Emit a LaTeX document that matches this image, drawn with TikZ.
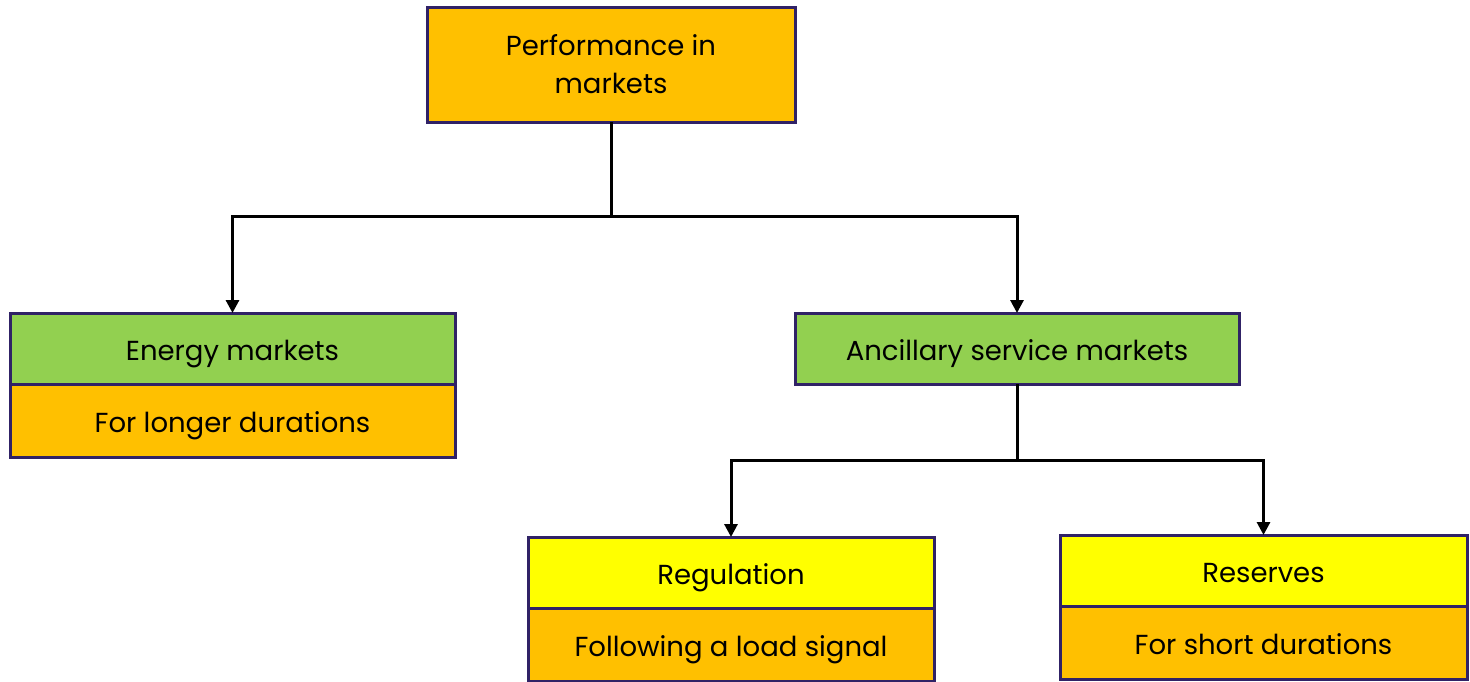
\documentclass[tikz,border=0pt]{standalone}
\usepackage{fontspec}
\setmainfont{Poppins}
\usetikzlibrary{arrows.meta}
\definecolor{edgepurple}{HTML}{302266}
\definecolor{amber}{HTML}{FFC000}
\definecolor{leaf}{HTML}{92D050}
\definecolor{lemon}{HTML}{FFFF00}
\begin{document}
\begin{tikzpicture}[x=1pt,y=-1pt,
  box/.style={draw=edgepurple, line width=3pt, inner sep=0pt, outer sep=0pt,
    align=center, font=\fontsize{27.5}{38}\selectfont, anchor=north west},
  oneline/.style={box, text height=23pt, text depth=0pt},
  link/.style={line width=3pt, black},
  arr/.style={link, -{Triangle[length=13pt,width=13pt]}}]
\useasboundingbox (0,0) rectangle (1470,681);

% root
\node[box, fill=amber, minimum width=368pt, minimum height=115pt] (top) at (427,7) {Performance in\\markets};

% second level
\node[oneline, fill=leaf, minimum width=445pt, minimum height=71pt] (energy) at (10,313) {Energy markets};
\node[oneline, fill=amber, minimum width=445pt, minimum height=73pt] (energyd) at (10,384) {For longer durations};
\node[oneline, fill=leaf, minimum width=444pt, minimum height=71pt] (anc) at (795,313) {Ancillary service markets};

% third level
\node[oneline, fill=lemon, minimum width=406pt, minimum height=71pt] (reg) at (528,537) {Regulation};
\node[oneline, fill=amber, minimum width=406pt, minimum height=73pt] (regd) at (528,608) {Following a load signal};
\node[oneline, fill=lemon, minimum width=407pt, minimum height=71pt] (res) at (1060,535) {Reserves};
\node[oneline, fill=amber, minimum width=407pt, minimum height=73pt] (resd) at (1060,606) {For short durations};

% connectors
\coordinate (j1) at (top.south |- 0,216);
\draw[link] (top.south) -- (j1);
\draw[arr] (j1) -| (energy.north);
\draw[arr] (j1) -| (anc.north);

\coordinate (j2) at (anc.south |- 0,460);
\draw[link] (anc.south) -- (j2);
\draw[arr] (j2) -| (reg.north);
\draw[arr] (j2) -| (res.north);
\end{tikzpicture}
\end{document}
